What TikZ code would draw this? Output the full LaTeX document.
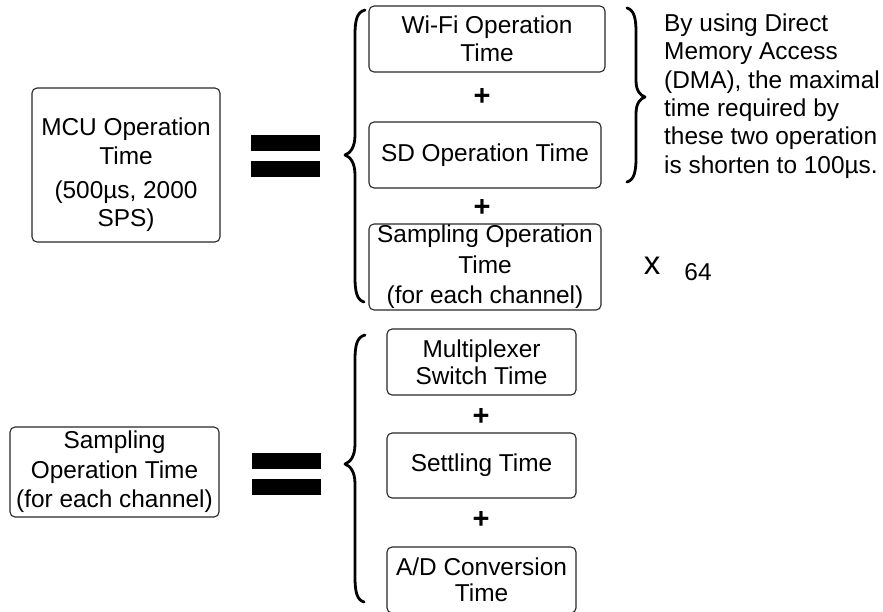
\documentclass[tikz,border=0pt]{standalone}
\usepackage{fontspec}
\setmainfont{Liberation Sans}
\newcommand\boxfont{\fontsize{24.4}{28.4}\selectfont}
\begin{document}
\begin{tikzpicture}[x=1pt,y=-1pt,
  box/.style={draw=black!85, line width=1.1pt, rounded corners=5pt,
              align=center, inner sep=0pt, font=\boxfont},
  txt/.style={align=center, inner sep=0pt, font=\boxfont},
  plus/.style={inner sep=0pt, font=\fontsize{29}{29}\selectfont\bfseries},
  bar/.style={fill=black, draw=none},
  bracel/.style={draw=black, line width=2.8pt, line cap=round, line join=round}]
\useasboundingbox (0,0) rectangle (883,611);

% ---------- MCU operation time ----------
\node[box, minimum width=188pt, minimum height=154pt] (mcu) at (126,165) {};
\node[txt] (mcutext) at ([yshift=-10pt]mcu.center)
  {MCU Operation\\Time\\[6pt](500µs, 2000\\SPS)};

% equals sign
\fill[bar] (251,135) rectangle (320,151);
\fill[bar] (251,161) rectangle (320,177);

% left brace of the upper sum
\draw[bracel] (365,10) .. controls (357,12) and (355,20) .. (355,35)
  -- (355,135) .. controls (355,148) and (350,153) .. (345,155)
  .. controls (350,157) and (355,162) .. (355,175)
  -- (355,277) .. controls (355,292) and (357,300) .. (364,302);

% terms of the upper sum
\node[box, minimum width=236pt, minimum height=66pt] (wifi) at (487,39)
  {Wi-Fi Operation\\Time};
\node[plus] (p1) at (482,97) {+};
\node[box, minimum width=232pt, minimum height=66pt] (sd) at (485,155)
  {SD Operation Time};
\node[plus] (p2) at (482,208) {+};
\node[box, minimum width=232pt, minimum height=86pt,
      font=\fontsize{24.4}{30.5}\selectfont] (samp1) at (485,267)
  {Sampling Operation\\Time\\(for each channel)};

% right brace grouping Wi-Fi and SD
\draw[bracel] (627,8) .. controls (634,10) and (636,18) .. (636,32)
  -- (636,80) .. controls (636,91) and (640,95) .. (645,97)
  .. controls (640,99) and (636,103) .. (636,114)
  -- (636,158) .. controls (636,172) and (634,180) .. (627,182);

\node[txt, align=left, anchor=west] (dma) at (664,96)
  {By using Direct\\Memory Access\\(DMA), the maximal\\time required by\\these two operation\\is shorten to 100µs.};

% multiplier
\node[inner sep=0pt, font=\fontsize{33}{33}\selectfont] (times) at (652,266) {x};
\node[txt] (n64) at (698,272) {64};

% ---------- sampling operation time ----------
\node[box, minimum width=209pt, minimum height=90pt,
      font=\fontsize{24.4}{29.5}\selectfont] (samp2) at (114.5,472)
  {Sampling\\Operation Time\\(for each channel)};

% equals sign
\fill[bar] (252,453) rectangle (321,469);
\fill[bar] (252,479) rectangle (321,495);

% left brace of the lower sum
\draw[bracel] (365,335) .. controls (357,337) and (355,345) .. (355,360)
  -- (355,444) .. controls (355,457) and (350,462) .. (345,464)
  .. controls (350,466) and (355,471) .. (355,484)
  -- (355,577) .. controls (355,592) and (357,600) .. (364,602);

% terms of the lower sum
\node[box, minimum width=189pt, minimum height=66pt,
      font=\fontsize{24.4}{27}\selectfont] (mux) at (481.5,362)
  {Multiplexer\\Switch Time};
\node[plus] (p3) at (481,417) {+};
\node[box, minimum width=189pt, minimum height=65pt] (settle) at (481.5,465.5)
  {Settling Time};
\node[plus] (p4) at (481,520) {+};
\node[box, minimum width=189pt, minimum height=66pt,
      font=\fontsize{24.4}{26.5}\selectfont] (ad) at (481.5,580)
  {A/D Conversion\\Time};
\end{tikzpicture}
\end{document}
